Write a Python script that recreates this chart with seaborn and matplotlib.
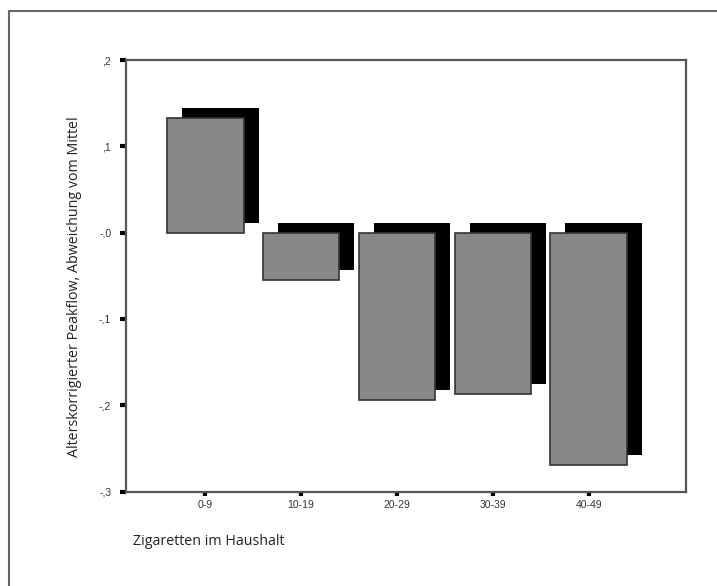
import matplotlib
matplotlib.use("Agg")
import matplotlib.pyplot as plt
import matplotlib.transforms as mtransforms
from matplotlib.patches import Rectangle
import seaborn as sns
import pandas as pd

categories = ["0-9", "10-19", "20-29", "30-39", "40-49"]
values = [0.133, -0.055, -0.194, -0.187, -0.269]
ytick_values = [0.2, 0.1, 0.0, -0.1, -0.2, -0.3]
ytick_labels = [",2", ",1", "-,0", "-,1", "-,2", "-,3"]
x_title = "Zigaretten im Haushalt"
y_title = "Alterskorrigierter Peakflow, Abweichung vom Mittel"

df = pd.DataFrame({"cat": categories, "val": values})

sns.set_style("white")
plt.rcParams["font.family"] = ["Liberation Sans", "DejaVu Sans"]

W, H = 717, 586
fig = plt.figure(figsize=(W / 100, H / 100), dpi=100)
ax = fig.add_axes([126.5 / W, 1 - 491.5 / H, (685.7 - 126.5) / W, (491.5 - 60) / H])

# shadow bars (drawn first, offset right & up)
sns.barplot(data=df, x="cat", y="val", order=categories, ax=ax, color="black",
            saturation=1, width=0.8, edgecolor="black", linewidth=0, errorbar=None)
n_shadow = len(ax.patches)
offset = mtransforms.ScaledTranslation(15 / 100, 10 / 100, fig.dpi_scale_trans)
for p in ax.patches[:n_shadow]:
    p.set_transform(ax.transData + offset)
    p.set_zorder(1)

# front bars
sns.barplot(data=df, x="cat", y="val", order=categories, ax=ax, color="#888888",
            saturation=1, width=0.8, edgecolor="#333333", linewidth=1.2, errorbar=None)
for p in ax.patches[n_shadow:]:
    p.set_zorder(2)

ax.set_xlim(-0.82, 5.01)
ax.set_ylim(-0.3, 0.2)
ax.set_yticks(ytick_values)
ax.set_yticklabels(ytick_labels)
ax.set_xlabel("")
ax.set_ylabel("")

for s in ax.spines.values():
    s.set_visible(True)
    s.set_color("#555555")
    s.set_linewidth(1.6)

ax.tick_params(axis="y", direction="out", length=4, width=3, color="black",
               pad=7, labelsize=7.5, labelcolor="#333333", left=True)
ax.tick_params(axis="x", direction="out", length=3, width=3, color="black",
               pad=3, labelsize=7.5, labelcolor="#333333", bottom=True)

fig.text(75 / W, 1 - 287 / H, y_title, rotation=90, ha="center", va="center",
         fontsize=10.3, family=["Open Sans", "DejaVu Sans"], color="#222222")
fig.text(133 / W, 1 - 541.7 / H, x_title, ha="left", va="center",
         fontsize=10.3, family=["Open Sans", "DejaVu Sans"], color="#222222")

# outer frame
fig.patches.append(Rectangle((9 / W, -0.05), 1.1, 1 - 11 / H + 0.05,
                             transform=fig.transFigure, fill=False,
                             edgecolor="#666666", linewidth=1.5, figure=fig))

fig.savefig("out.png", dpi=100)
